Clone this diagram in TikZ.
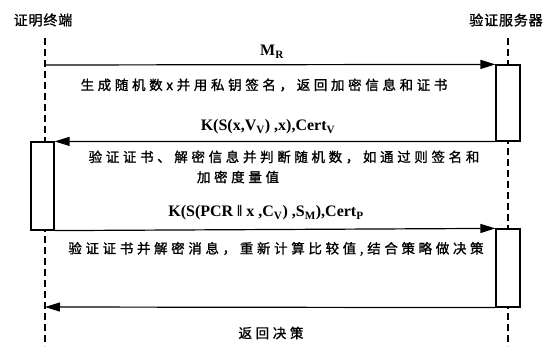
\documentclass[tikz,border=0pt]{standalone}
\usepackage{fontspec}
\setmainfont{Liberation Serif}
\newfontfamily\cjk{Noto Sans CJK SC}[LetterSpace=27,FakeBold=1.2]
\newfontfamily\cjkt{Noto Sans CJK SC}[LetterSpace=6,FakeBold=1.2]
\usetikzlibrary{arrows.meta}
\begin{document}
\begin{tikzpicture}[x=1pt,y=-1pt,
  lifeline/.style={line width=1.3pt,dash pattern=on 7pt off 4pt},
  actbox/.style={draw,line width=1.2pt,fill=white},
  msg/.style={line width=1.2pt,-{Triangle[length=15pt,width=9pt]}},
  head/.style={font=\cjkt\fontsize{14}{16}\selectfont,inner sep=0pt},
  cn/.style={font=\cjk\fontsize{13.5}{16}\selectfont,inner sep=0pt},
  lat/.style={font=\bfseries\fontsize{16}{18}\selectfont,inner sep=0pt}]
\useasboundingbox (0,0) rectangle (560,350);
% heads
\node[head] (tA) at (43,20) {证明终端};
\node[head] (tB) at (506,20) {验证服务器};
% lifelines
\coordinate (A0) at (45,38);
\coordinate (A1) at (45,346);
\coordinate (B0) at (508,38);
\coordinate (B1) at (508,346);
\draw[lifeline] (A0) -- (A1);
\draw[lifeline] (B0) -- (B1);
% activation boxes
\node[actbox,minimum width=24pt,minimum height=76pt,inner sep=0pt] (rb1) at (508,103) {};
\node[actbox,minimum width=23pt,minimum height=88pt,inner sep=0pt] (lb) at (42.5,186) {};
\node[actbox,minimum width=24pt,minimum height=78pt,inner sep=0pt] (rb2) at (508,268) {};
% messages
\coordinate (a1) at (45,65);
\coordinate (a4) at (45,307);
\draw[msg] (a1) -- (rb1.north west);
\draw[msg] (rb1.south west) -- (lb.north east);
\draw[msg] (lb.south east) -- (rb2.north west);
\draw[msg] (rb2.south west) -- (a4);
% labels
\node[lat] (m1) at (272,52) {M\textsubscript{R}};
\node[cn] (t1) at (264,85) {生成随机数x并用私钥签名，返回加密信息和证书};
\node[lat] (m2) at (268,127) {K(S(x,V\textsubscript{V}) ,x),Cert\textsubscript{V}};
\node[cn] (t2a) at (284,157) {验证证书、解密信息并判断随机数，如通过则签名和};
\node[cn] (t2b) at (238,177) {加密度量值};
\node[lat] (m3) at (266,213) {K(S(PCR \textbardbl\ x ,C\textsubscript{V}) ,S\textsubscript{M}),Cert\textsubscript{P}};
\node[cn] (t3) at (276,249) {验证证书并解密消息，重新计算比较值,结合策略做决策};
\node[cn] (t4) at (271,333) {返回决策};
\end{tikzpicture}
\end{document}
